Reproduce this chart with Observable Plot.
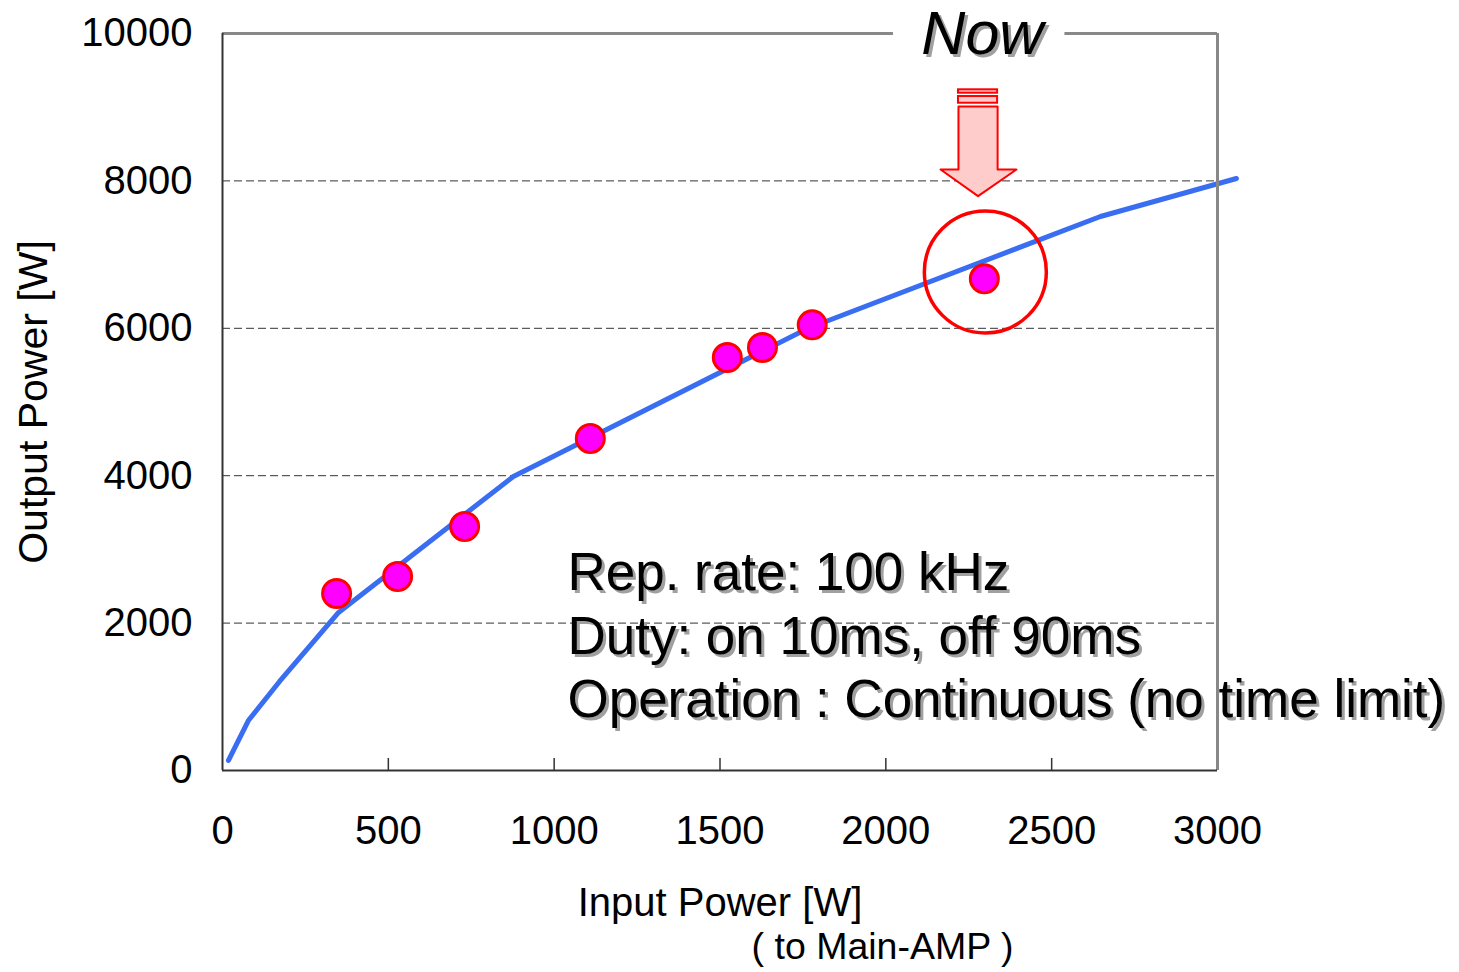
<!DOCTYPE html>
<html>
<head>
<meta charset="utf-8">
<script src="https://cdn.jsdelivr.net/npm/d3@7"></script>
<script src="https://cdn.jsdelivr.net/npm/@observablehq/plot@0.6"></script>
<style>
  html, body { margin: 0; padding: 0; background: white; }
</style>
</head>
<body>
<div id="chart"></div>
<script>
// ---- data ----
const xTicks = [0, 500, 1000, 1500, 2000, 2500, 3000];
const yTicks = [0, 2000, 4000, 6000, 8000, 10000];
const gridY = [2000, 4000, 6000, 8000];

// fitted curve (blue line)
const curveX = [18, 78, 172, 350, 877, 1764, 2647, 3057];
const curveY = [136, 678, 1208, 2144, 3990, 5997, 7517, 8033];

// measured points (magenta dots)
const measX = [344, 528, 730, 1109, 1522, 1628, 1778, 2297];
const measY = [2402, 2632, 3311, 4505, 5604, 5740, 6047, 6672];

// highlighted "Now" point
const nowX = [2300];
const nowY = [6764];

// block arrow outline (data units)
const arrowX = [2219, 2219, 2165, 2278, 2394, 2337, 2337, 2219];
const arrowY = [9010, 8155, 8155, 7793, 8155, 8155, 9010, 9010];
const barX1 = [2219, 2219], barX2 = [2337, 2337];
const barY1 = [9190, 9054], barY2 = [9236, 9145];

const noteText = "Rep. rate: 100 kHz\nDuty: on 10ms, off 90ms\nOperation : Continuous (no time limit)";
const xLabel = "Input Power [W]";
const xSubLabel = "( to Main-AMP )";
const yLabel = "Output Power [W]";
const nowLabel = "Now";

// ---- tables ----
const curve = curveX.map((x, i) => ({x, y: curveY[i]}));
const meas = measX.map((x, i) => ({x, y: measY[i]}));
const nowPt = nowX.map((x, i) => ({x, y: nowY[i]}));
const arrow = arrowX.map((x, i) => ({x, y: arrowY[i]}));
const bars = barX1.map((x1, i) => ({x1, x2: barX2[i], y1: barY1[i], y2: barY2[i]}));

const font = "'Liberation Sans', Arial, sans-serif";

const chart = Plot.plot({
  width: 1459,
  height: 972,
  marginLeft: 222,
  marginRight: 242,
  marginTop: 33,
  marginBottom: 202,
  x: {domain: [0, 3000]},
  y: {domain: [0, 10000]},
  style: {fontFamily: font, fontSize: "40px", background: "white", color: "black", overflow: "visible"},
  marks: [
    Plot.ruleY(gridY, {stroke: "#333", strokeWidth: 1, strokeDasharray: "8,4"}),
    Plot.tickX(xTicks.slice(1, -1), {x: d => d, insetTop: 725, stroke: "#333", strokeWidth: 1.5}),
    Plot.axisX({ticks: xTicks, tickSize: 0, tickPadding: 45, tickFormat: d => String(d), label: null, fontSize: 40}),
    Plot.axisY({ticks: yTicks, tickSize: 0, tickPadding: 30, tickFormat: d => String(d), label: null, fontSize: 40}),
    Plot.line(curve, {x: "x", y: "y", stroke: "#3a6ef2", strokeWidth: 5, strokeLinejoin: "round", strokeLinecap: "round"}),
    Plot.dot(meas, {x: "x", y: "y", r: 14, fill: "#ff00ff", stroke: "#ff0000", strokeWidth: 3}),
    Plot.dot(nowPt, {x: "x", y: "y", r: 61, fill: "none", stroke: "#ff0000", strokeWidth: 3.5}),
    Plot.line(arrow, {x: "x", y: "y", fill: "#ffcccc", stroke: "#ff0000", strokeWidth: 2}),
    Plot.rect(bars, {x1: "x1", x2: "x2", y1: "y1", y2: "y2", fill: "#ffcccc", stroke: "#ff0000", strokeWidth: 2}),
    // frame
    Plot.ruleY([10000], {x1: 0, x2: 2023, stroke: "#888", strokeWidth: 3}),
    Plot.ruleY([10000], {x1: 2540, x2: 3000, stroke: "#888", strokeWidth: 3}),
    Plot.ruleX([3000], {stroke: "#888", strokeWidth: 3}),
    Plot.ruleX([0], {stroke: "#333", strokeWidth: 2}),
    Plot.ruleY([0], {stroke: "#333", strokeWidth: 2}),
    // note text with shadow
    Plot.text([noteText], {x: 1040, y: 720, text: d => d, textAnchor: "start", lineAnchor: "bottom", lineHeight: 1.2, fontSize: 53, fill: "#a0a0a0", dx: 3, dy: 3}),
    Plot.text([noteText], {x: 1040, y: 720, text: d => d, textAnchor: "start", lineAnchor: "bottom", lineHeight: 1.2, fontSize: 53, fill: "black"}),
    // Now label with shadow
    Plot.text([nowLabel], {x: 2291, frameAnchor: "top", text: d => d, lineAnchor: "bottom", fontSize: 61, fontStyle: "italic", fill: "#a0a0a0", dx: 3, dy: 23}),
    Plot.text([nowLabel], {x: 2291, frameAnchor: "top", text: d => d, lineAnchor: "bottom", fontSize: 61, fontStyle: "italic", fill: "black", dy: 20}),
    // axis labels
    Plot.text([xLabel], {x: 1500, frameAnchor: "bottom", text: d => d, lineAnchor: "bottom", fontSize: 40, dy: 145}),
    Plot.text([xSubLabel], {x: 1990, frameAnchor: "bottom", text: d => d, lineAnchor: "bottom", fontSize: 37.5, dy: 188}),
    Plot.text([yLabel], {frameAnchor: "left", text: d => d, rotate: -90, textAnchor: "middle", lineAnchor: "middle", fontSize: 41, dx: -189})
  ]
});

document.getElementById("chart").appendChild(chart);
</script>
</body>
</html>
